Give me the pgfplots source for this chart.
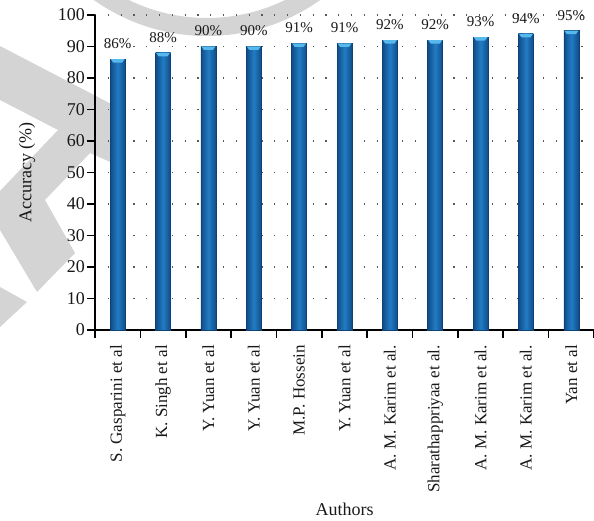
\documentclass[border=0pt]{standalone}
\usepackage{fontspec}
\setmainfont{Liberation Serif}
\usepackage{pgfplots}
\pgfplotsset{compat=1.18}

\definecolor{barmid}{RGB}{34,124,196}
\definecolor{baredge}{RGB}{16,76,136}
\definecolor{barline}{RGB}{14,66,118}
\definecolor{capc}{RGB}{86,184,235}
\definecolor{wm}{RGB}{212,212,212}

% light bevel drawn at the top of each column
\pgfdeclareplotmark{barcap}{%
  \pgfpathmoveto{\pgfpoint{-7bp}{0bp}}%
  \pgfpathlineto{\pgfpoint{7bp}{0bp}}%
  \pgfpathlineto{\pgfpoint{4.5bp}{-3.5bp}}%
  \pgfpathlineto{\pgfpoint{-4.5bp}{-3.5bp}}%
  \pgfpathclose
  \pgfusepathqfill}

\pgfplotsset{
  column/.style={ybar, bar width=15bp, bar shift=0pt,
    draw=barline, line width=0.5bp,
    left color=baredge, right color=baredge, middle color=barmid,
    nodes near coords={\pgfmathprintnumber[fixed,precision=0]{\pgfplotspointmeta}\%},
    every node near coord/.append style={anchor=center, yshift=15.5bp,
      font=\fontsize{15bp}{17bp}\selectfont, text=black!90}},
}

\begin{document}
\begin{tikzpicture}[x=1bp,y=1bp]
  % background watermark shapes
  \begin{scope}
    \clip (0,0) rectangle (594,521);
    \fill[wm] (0,475) -- (117,414) -- (117,356) -- (90,368) -- (45,321)
      -- (75,268) -- (37,229) -- (0,291) -- (0,330) -- (58,391)
      -- (0,421) -- cycle;
    \fill[wm] (0,234) -- (27,219) -- (0,194) -- cycle;
    \fill[wm,even odd rule] (207,681) circle[radius=196] (207,681) circle[radius=178];
  \end{scope}

  \begin{axis}[
    at={(95bp,191bp)}, anchor=south west,
    scale only axis,
    width=499bp, height=315bp,
    xmin=-0.5, xmax=10.5,
    ymin=0, ymax=100,
    axis x line*=bottom,
    axis y line*=left,
    axis line style={line width=1.6bp, black},
    ytick={0,10,...,100},
    xtick={0,...,10},
    xticklabels={S. Gasparini et al, K. Singh et al, Y. Yuan et al, Y. Yuan et al,
      M.P. Hossein, Y. Yuan et al, A. M. Karim et al., Sharathappriyaa et al.,
      A. M. Karim et al., A. M. Karim et al., Yan et al},
    minor xtick={-0.5,0.5,...,10.5},
    major x tick style={draw=none},
    tick align=outside,
    major tick length=8bp,
    minor tick length=8bp,
    tick style={line width=1.6bp, black},
    /pgf/number format/assume math mode=true,
    ticklabel style={font=\fontsize{18bp}{20bp}\selectfont, text=black!90},
    xticklabel style={rotate=90, anchor=east, inner sep=0pt,
      font=\fontsize{17bp}{19bp}\selectfont},
    yticklabel style={inner sep=0pt},
    xticklabel shift=7bp,
    yticklabel shift=2bp,
    ymajorgrids,
    major grid style={dash pattern=on 1.2bp off 11.6bp, line width=1.2bp, black!65},
    xlabel={Authors},
    ylabel={Accuracy (\%)},
    every axis x label/.style={at={(axis description cs:0.5,-0.568)}, anchor=center,
      font=\fontsize{18bp}{20bp}\selectfont, text=black!90},
    every axis y label/.style={at={(axis description cs:-0.1363,0.5)}, rotate=90,
      anchor=center, font=\fontsize{18bp}{20bp}\selectfont, text=black!90},
    clip=false,
  ]
    % one plot per column so that every column gets its own shading
    \addplot[column] coordinates {(0,86)};
    \addplot[column] coordinates {(1,88)};
    \addplot[column] coordinates {(2,90)};
    \addplot[column] coordinates {(3,90)};
    \addplot[column] coordinates {(4,91)};
    \addplot[column] coordinates {(5,91)};
    \addplot[column] coordinates {(6,92)};
    \addplot[column] coordinates {(7,92)};
    \addplot[column] coordinates {(8,93)};
    \addplot[column] coordinates {(9,94)};
    \addplot[column] coordinates {(10,95)};
    % bevelled tops
    \addplot[only marks, mark=barcap, mark options={fill=capc, draw=none}]
      coordinates {(0,86) (1,88) (2,90) (3,90) (4,91) (5,91)
                   (6,92) (7,92) (8,93) (9,94) (10,95)};
  \end{axis}
  \pgfresetboundingbox
  \path (0,0) rectangle (594,521);
\end{tikzpicture}
\end{document}
